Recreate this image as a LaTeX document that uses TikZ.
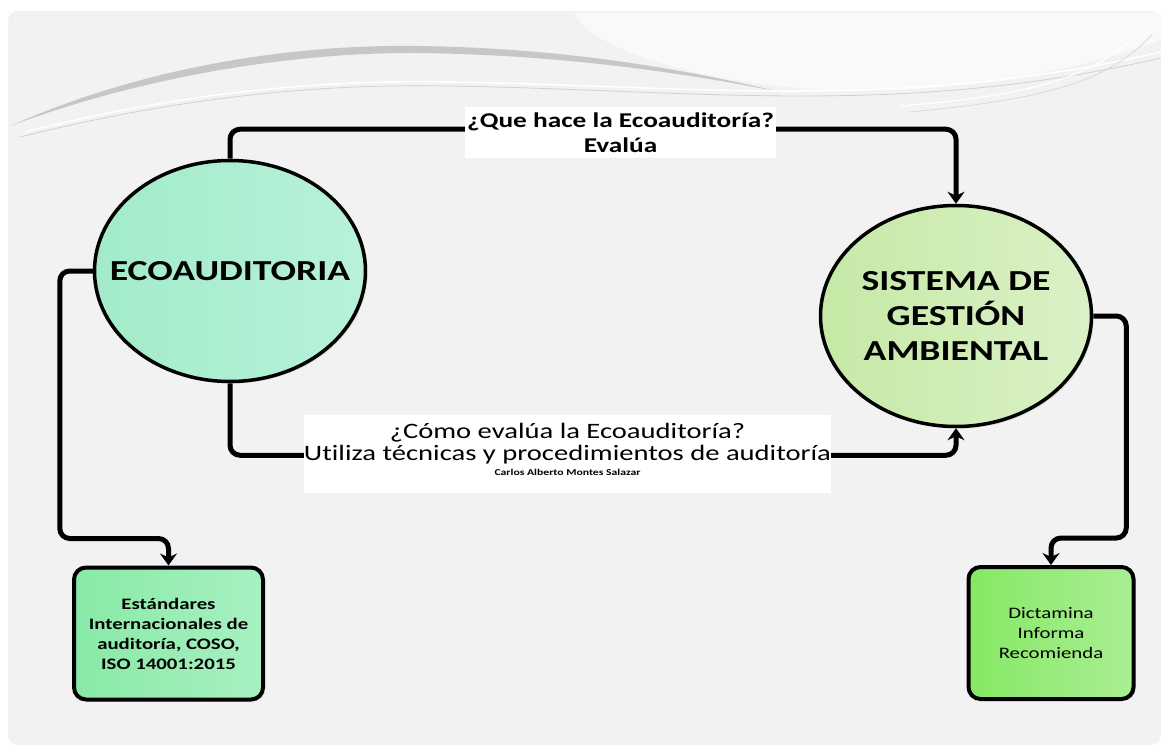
\documentclass[tikz,border=0pt]{standalone}
\usepackage{fontspec}
\setmainfont{Carlito}[FakeStretch=1.3, Ligatures=NoCommon]
\usepackage{tikz}
\usetikzlibrary{shapes.geometric, arrows.meta, shadows}
\definecolor{fondo}{HTML}{F2F2F2}
\definecolor{ecoA}{HTML}{A2EBC9}
\definecolor{ecoB}{HTML}{B8F1DA}
\definecolor{sgaA}{HTML}{C6E9A6}
\definecolor{sgaB}{HTML}{DAF1C6}
\definecolor{estA}{HTML}{88EAA6}
\definecolor{estB}{HTML}{A8F0C2}
\definecolor{dicA}{HTML}{86E864}
\definecolor{dicB}{HTML}{AAEE94}
\tikzset{
	>={Stealth[length=12pt,width=17pt,inset=4pt]}, % Punta de flecha gruesa
	conexion/.style={draw=black, line width=5pt, rounded corners=10pt, ->}, % Conectores
	sombra/.style={drop shadow={shadow xshift=2pt, shadow yshift=-2pt, fill=black!25}}, % Sombra
	circulo/.style={ellipse, draw=black, line width=3.5pt, minimum width=271pt, minimum height=221pt, inner xsep=-30pt, inner ysep=0pt, align=center, sombra, font=\fontsize{29}{35}\bfseries}, % Elipses
	caja/.style={rectangle, rounded corners=12pt, draw=black, line width=4pt, minimum height=132pt, inner sep=0pt, align=center, sombra, font=\fontsize{16}{20}\selectfont}, % Cajas
	etiqueta/.style={fill=white, inner sep=0pt, align=center} % Textos sobre los conectores
}

\begin{document}
\begin{tikzpicture}[x=1pt, y=-1pt]
	\useasboundingbox (0,0) rectangle (1161,751);
	% fondo
	\fill[white] (0,0) rectangle (1161,751);
	\fill[fondo, rounded corners=10pt] (8,11) rectangle (1161,745);
	\fill[white!55!fondo] (574,13) .. controls (600,62) and (760,95) .. (890,90) .. controls (1010,86) and (1100,62) .. (1161,40) -- (1161,13) -- cycle;
	\fill[black!22] (10,126) .. controls (150,64) and (300,44) .. (420,46) .. controls (560,48) and (680,68) .. (780,92) .. controls (680,72) and (560,55) .. (420,53) .. controls (300,52) and (150,74) .. (10,126) -- cycle;
	\draw[black!18, line width=0.8pt] (20,137) .. controls (200,92) and (340,84) .. (450,86) .. controls (700,90) and (900,118) .. (1161,58);
	\draw[white, line width=1.5pt] (25,132) .. controls (200,88) and (340,80) .. (450,82) .. controls (700,86) and (900,112) .. (1161,52);
	\draw[black!15, line width=0.8pt] (1152,35) .. controls (1110,78) and (1060,98) .. (910,112);
	\draw[white, line width=1.2pt] (1140,32) .. controls (1095,75) and (1040,95) .. (900,106);

	% nodos
	\node[circulo, left color=ecoA, right color=ecoB] (eco) at (230,271) {ECOAUDITORIA};
	\node[circulo, left color=sgaA, right color=sgaB] (sga) at (956,316) {SISTEMA DE\\GESTIÓN\\AMBIENTAL};
	\node[caja, minimum width=189pt, left color=estA, right color=estB, font=\fontsize{16}{20}\bfseries] (est) at (168.5,633.5) {Estándares\\Internacionales de\\auditoría, COSO,\\ISO 14001:2015};
	\node[caja, minimum width=165pt, left color=dicA, right color=dicB] (dict) at (1051,633) {Dictamina\\Informa\\Recomienda};

	% conectores
	\draw[conexion] (eco.north) -- ++(0,-29.5) -| (sga.north);
	\draw[conexion] (eco.south) -- ++(0,72) -| (sga.south);
	\draw[conexion] (eco.west) -- ++(-33,0) |- ([yshift=27pt]est.north) -- (est.north);
	\draw[conexion] (sga.east) -- ++(33,0) |- ([yshift=27pt]dict.north) -- (dict.north);

	% textos de los conectores
	\node[etiqueta, minimum width=311pt, minimum height=51pt, font=\fontsize{21}{25}\bfseries] (quehace) at (620.5,132.5) {¿Que hace la Ecoauditoría?\\Evalúa};
	\node[etiqueta, minimum width=525pt, minimum height=78pt, font=\fontsize{22}{23}\selectfont] (comoevalua) at (567.5,454) {¿Cómo evalúa la Ecoauditoría?\\[-1pt]Utiliza técnicas y procedimientos de auditoría\\[-8pt]\fontsize{9}{11}\bfseries Carlos Alberto Montes Salazar\\[-13pt]\mbox{}};
\end{tikzpicture}
\end{document}
